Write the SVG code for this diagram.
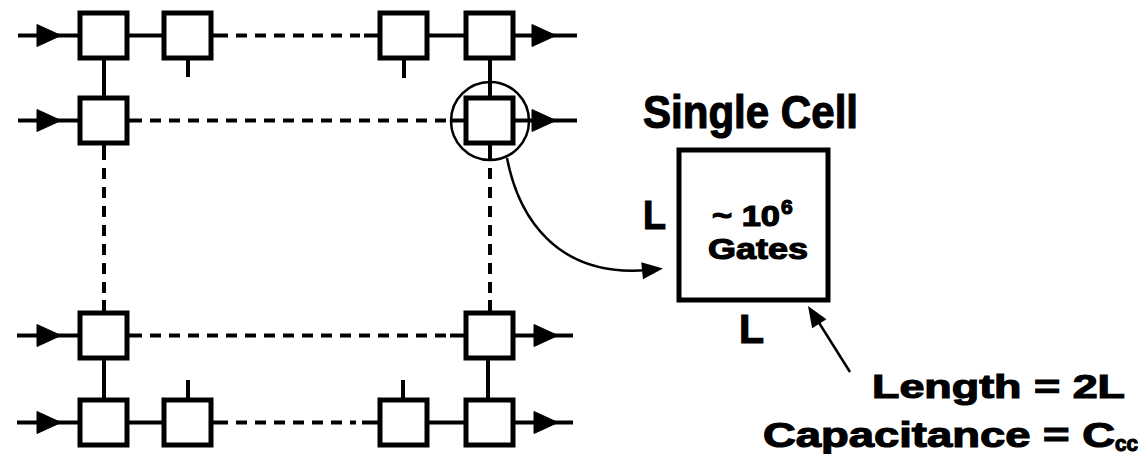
<svg xmlns="http://www.w3.org/2000/svg" width="1145" height="454" viewBox="0 0 1145 454">
<style>
.cell{fill:#fff;stroke:#000;stroke-width:5}
.w{fill:none;stroke:#000;stroke-width:4}
.d{fill:none;stroke:#000;stroke-width:4;stroke-dasharray:11 8}
.thin{fill:none;stroke:#000;stroke-width:2.5}
.t{font-family:"Liberation Sans",Arial,sans-serif;font-weight:bold;fill:#000;stroke:#000;stroke-width:1.2}
</style>
<defs>
<path id="ah" d="M-24,-11 L0,0 L-24,11 z" fill="#000" stroke="#000" stroke-width="1" stroke-linejoin="round"/>
<path id="ahs" d="M-21,-8.5 L0,0 L-21,8.5 z" fill="#000"/>
</defs>
<rect width="1145" height="454" fill="#fff"/>
<g id="connectors">
<!-- row 1 -->
<path class="w" d="M18,35.5 L80,35.5"/>
<use href="#ah" x="61" y="35.5"/>
<path class="w" d="M127,35.5 L164,35.5"/>
<path class="w" d="M211,35.5 L228,35.5"/>
<path class="d" d="M236,35.5 L360,35.5"/>
<path class="w" d="M364,35.5 L380,35.5"/>
<path class="w" d="M427,35.5 L466,35.5"/>
<path class="w" d="M513,35.5 L577,35.5"/>
<use href="#ah" x="556" y="35.5"/>
<path class="w" d="M188,58 L188,77"/>
<path class="w" d="M404,58 L404,78"/>
<path class="w" d="M104,58 L104,98"/>
<path class="w" d="M490,58 L490,98"/>
<!-- row 2 -->
<path class="w" d="M18,120.5 L80,120.5"/>
<use href="#ah" x="61" y="120.5"/>
<path class="w" d="M127,120.5 L142,120.5"/>
<path class="d" d="M150,120.5 L446,120.5"/>
<path class="w" d="M450,120.5 L466,120.5"/>
<path class="w" d="M513,120.5 L577,120.5"/>
<use href="#ah" x="556" y="120.5"/>
<circle class="thin" cx="490" cy="121" r="39"/>
<path class="w" d="M104,143 L104,160"/>
<path class="d" d="M104,168 L104,296"/>
<path class="w" d="M104,300 L104,313"/>
<path class="w" d="M490,143 L490,160"/>
<path class="d" d="M490,168 L490,296"/>
<path class="w" d="M490,300 L490,313"/>
<!-- row 3 -->
<path class="w" d="M17,335.5 L80,335.5"/>
<use href="#ah" x="61" y="335.5"/>
<path class="w" d="M127,335.5 L142,335.5"/>
<path class="d" d="M150,335.5 L446,335.5"/>
<path class="w" d="M450,335.5 L466,335.5"/>
<path class="w" d="M513,335.5 L573,335.5"/>
<use href="#ah" x="558" y="335.5"/>
<path class="w" d="M104,358 L104,400"/>
<path class="w" d="M488,358 L488,400"/>
<!-- row 4 -->
<path class="w" d="M17,422.5 L80,422.5"/>
<use href="#ah" x="61" y="422.5"/>
<path class="w" d="M127,422.5 L164,422.5"/>
<path class="w" d="M211,422.5 L228,422.5"/>
<path class="d" d="M236,422.5 L356,422.5"/>
<path class="w" d="M362,422.5 L380,422.5"/>
<path class="w" d="M427,422.5 L466,422.5"/>
<path class="w" d="M513,422.5 L573,422.5"/>
<use href="#ah" x="558" y="422.5"/>
<path class="w" d="M188,380 L188,400"/>
<path class="w" d="M403,380 L403,400"/>
<!-- pointer to single cell -->
<path class="thin" d="M507,158 C518,215 555,278 648,270"/>
<use href="#ahs" transform="translate(663,268.5) rotate(-6)"/>
<path class="thin" d="M850,372 L816,318"/>
<use href="#ahs" transform="translate(808,306) rotate(237.5)"/>
</g>
<g id="n11"><rect class="cell" x="80" y="13" width="47" height="45"/></g>
<g id="n12"><rect class="cell" x="164" y="13" width="47" height="45"/></g>
<g id="n13"><rect class="cell" x="380" y="13" width="47" height="45"/></g>
<g id="n14"><rect class="cell" x="466" y="13" width="47" height="45"/></g>
<g id="n21"><rect class="cell" x="80" y="98" width="47" height="45"/></g>
<g id="n24"><rect class="cell" x="466" y="98" width="47" height="45"/></g>
<g id="n31"><rect class="cell" x="80" y="313" width="47" height="45"/></g>
<g id="n34"><rect class="cell" x="466" y="313" width="47" height="45"/></g>
<g id="n41"><rect class="cell" x="80" y="400" width="47" height="45"/></g>
<g id="n42"><rect class="cell" x="164" y="400" width="47" height="45"/></g>
<g id="n43"><rect class="cell" x="380" y="400" width="47" height="45"/></g>
<g id="n44"><rect class="cell" x="466" y="400" width="47" height="45"/></g>
<g id="single-cell">
<text class="t" x="643" y="128" font-size="46" textLength="215" lengthAdjust="spacingAndGlyphs">Single Cell</text>
<rect class="cell" x="679" y="150" width="149" height="150" stroke-width="4.5"/>
<text class="t" x="712" y="226" font-size="30" textLength="68" lengthAdjust="spacingAndGlyphs">~ 10</text>
<text class="t" x="781" y="214" font-size="21">6</text>
<text class="t" x="708" y="259" font-size="30" textLength="100" lengthAdjust="spacingAndGlyphs">Gates</text>
<text class="t" x="643" y="229" font-size="40" textLength="23" lengthAdjust="spacingAndGlyphs">L</text>
<text class="t" x="739" y="343" font-size="40" textLength="25" lengthAdjust="spacingAndGlyphs">L</text>
</g>
<g id="labels">
<text class="t" x="872" y="398" font-size="34" textLength="253" lengthAdjust="spacingAndGlyphs">Length = 2L</text>
<text class="t" x="763" y="447" font-size="35" textLength="352" lengthAdjust="spacingAndGlyphs">Capacitance = C</text>
<text class="t" x="1115" y="451" font-size="22" textLength="23" lengthAdjust="spacingAndGlyphs">cc</text>
</g>
</svg>
